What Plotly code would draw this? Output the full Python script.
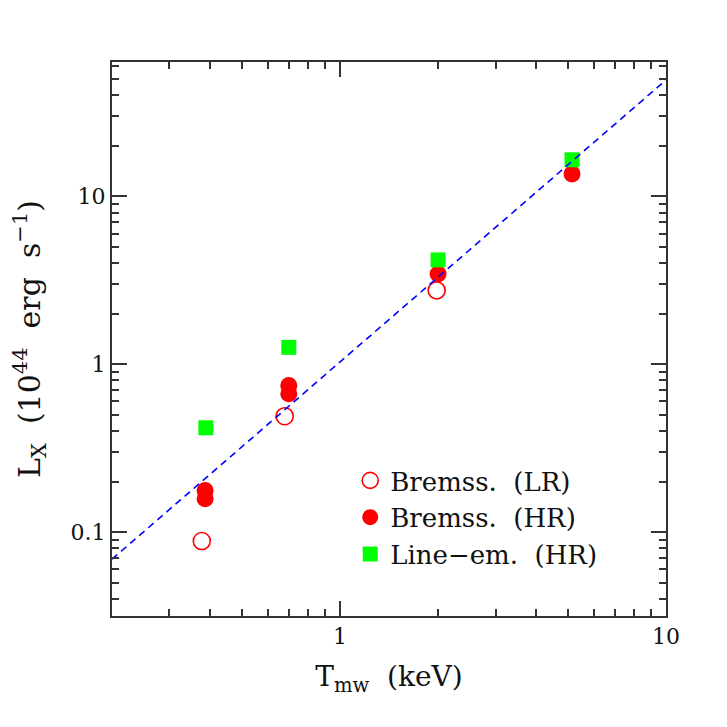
import numpy as np
import plotly.graph_objects as go

# ---- data ----
lr_T = [0.377, 0.677, 1.98]
lr_L = [0.0884, 0.49, 2.75]

hr_T = [0.386, 0.386, 0.697, 0.697, 2.0, 5.15]
hr_L = [0.177, 0.158, 0.747, 0.667, 3.45, 13.6]

le_T = [0.388, 0.697, 2.0, 5.15]
le_L = [0.418, 1.26, 4.18, 16.5]

fit_norm = 1.03
fit_slope = 1.68
fit_T = [0.2, 10.0]

x_major = [1, 10]
x_major_text = ["1", "10"]
y_major = [0.1, 1, 10]
y_major_text = ["0.1", "1", "10"]

FONT = "DejaVu Serif"
AX = "#333333"

fig = go.Figure()
fig.add_trace(go.Scatter(x=lr_T, y=lr_L, mode="markers", name="Bremss.  (LR)",
                         marker=dict(symbol="circle-open", size=17, color="#ff0000",
                                     line=dict(width=1.6, color="#ff0000"))))
fig.add_trace(go.Scatter(x=hr_T, y=hr_L, mode="markers", name="Bremss.  (HR)",
                         marker=dict(symbol="circle", size=17, color="#ff0000",
                                     line=dict(width=0))))
fig.add_trace(go.Scatter(x=le_T, y=le_L, mode="markers", name="Line\u2212em.  (HR)",
                         marker=dict(symbol="square", size=15, color="#00ff00",
                                     line=dict(width=0))))
fit_L = [fit_norm * t ** fit_slope for t in fit_T]
fig.add_trace(go.Scatter(x=fit_T, y=fit_L, mode="lines", showlegend=False,
                         line=dict(color="#0000ff", width=1.6, dash="7px,5px")))

minor_x = [m * 10.0 ** e for e in (-1, 0) for m in range(2, 10)]
minor_x = [v for v in minor_x if 0.2 < v < 10]
minor_y = [m * 10.0 ** e for e in (-2, -1, 0, 1) for m in range(2, 10)]
minor_y = [v for v in minor_y if 0.0316 < v < 63]

axis_common = dict(showgrid=False, zeroline=False, showline=True, linecolor=AX,
                   linewidth=2, mirror="allticks", ticks="inside", ticklen=15,
                   tickwidth=1.6, tickcolor=AX,
                   tickfont=dict(family=FONT, size=22, color="#111111"))

fig.update_xaxes(type="log", range=[np.log10(0.2), 1.0], tickmode="array",
                 tickvals=x_major, ticktext=x_major_text,
                 minor=dict(tickmode="array", tickvals=minor_x, ticks="inside",
                            ticklen=7, tickwidth=1.6, tickcolor=AX),
                 title=dict(text="T<sub>mw</sub>  (keV)", font=dict(family=FONT, size=28, color="#111111"),
                            standoff=18),
                 **axis_common)
fig.update_yaxes(type="log", range=[-1.5, 1.8], tickmode="array",
                 tickvals=y_major, ticktext=y_major_text,
                 minor=dict(tickmode="array", tickvals=minor_y, ticks="inside",
                            ticklen=7, tickwidth=1.6, tickcolor=AX),
                 title=dict(text="L<sub>X</sub>  (10<sup>44</sup>  erg  s<sup>\u22121</sup>)",
                            font=dict(family=FONT, size=30, color="#111111"), standoff=30),
                 **axis_common)

fig.update_layout(width=727, height=727,
                  margin=dict(l=104, r=69, t=54, b=119),
                  paper_bgcolor="white", plot_bgcolor="white",
                  legend=dict(x=0.43, y=0.287, xanchor="left", yanchor="top",
                              bgcolor="rgba(0,0,0,0)", borderwidth=0,
                              font=dict(family=FONT, size=26, color="#111111"),
                              tracegroupgap=0))

fig.write_html("out.html")
